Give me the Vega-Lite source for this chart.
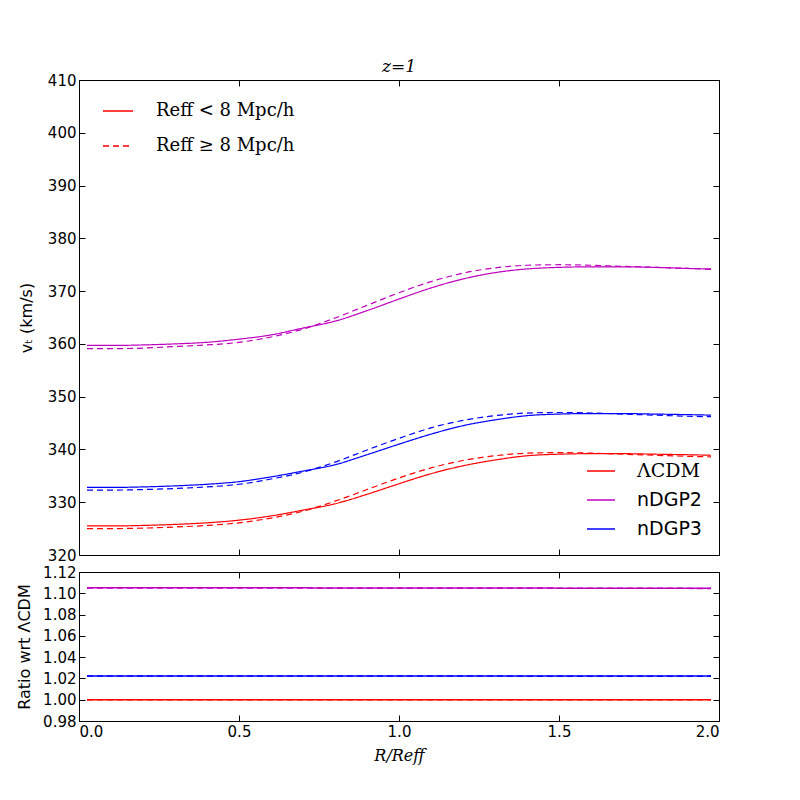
{
  "$schema": "https://vega.github.io/schema/vega-lite/v6.json",
  "background": "white",
  "padding": {"left": 16, "top": 57, "right": 10, "bottom": 10},
  "spacing": 0,
  "datasets": {
    "curves": [
      {"x": 0.025, "v": 325.5, "m": "ΛCDM", "s": "lt"}, {"x": 0.1, "v": 325.5, "m": "ΛCDM", "s": "lt"}, {"x": 0.2, "v": 325.6, "m": "ΛCDM", "s": "lt"}, {"x": 0.3, "v": 325.8, "m": "ΛCDM", "s": "lt"}, {"x": 0.4, "v": 326.1, "m": "ΛCDM", "s": "lt"}, {"x": 0.5, "v": 326.6, "m": "ΛCDM", "s": "lt"}, {"x": 0.6, "v": 327.4, "m": "ΛCDM", "s": "lt"}, {"x": 0.7, "v": 328.5, "m": "ΛCDM", "s": "lt"}, {"x": 0.8, "v": 329.7, "m": "ΛCDM", "s": "lt"}, {"x": 0.9, "v": 331.5, "m": "ΛCDM", "s": "lt"}, {"x": 1.0, "v": 333.5, "m": "ΛCDM", "s": "lt"}, {"x": 1.1, "v": 335.4, "m": "ΛCDM", "s": "lt"}, {"x": 1.2, "v": 336.9, "m": "ΛCDM", "s": "lt"}, {"x": 1.3, "v": 338.0, "m": "ΛCDM", "s": "lt"}, {"x": 1.4, "v": 338.8, "m": "ΛCDM", "s": "lt"}, {"x": 1.5, "v": 339.1, "m": "ΛCDM", "s": "lt"}, {"x": 1.6, "v": 339.2, "m": "ΛCDM", "s": "lt"}, {"x": 1.7, "v": 339.2, "m": "ΛCDM", "s": "lt"}, {"x": 1.8, "v": 339.1, "m": "ΛCDM", "s": "lt"}, {"x": 1.9, "v": 339.0, "m": "ΛCDM", "s": "lt"}, {"x": 1.975, "v": 338.9, "m": "ΛCDM", "s": "lt"},
      {"x": 0.025, "v": 325.0, "m": "ΛCDM", "s": "ge"}, {"x": 0.1, "v": 325.0, "m": "ΛCDM", "s": "ge"}, {"x": 0.2, "v": 325.1, "m": "ΛCDM", "s": "ge"}, {"x": 0.3, "v": 325.3, "m": "ΛCDM", "s": "ge"}, {"x": 0.4, "v": 325.6, "m": "ΛCDM", "s": "ge"}, {"x": 0.5, "v": 326.1, "m": "ΛCDM", "s": "ge"}, {"x": 0.6, "v": 327.0, "m": "ΛCDM", "s": "ge"}, {"x": 0.7, "v": 328.3, "m": "ΛCDM", "s": "ge"}, {"x": 0.8, "v": 330.2, "m": "ΛCDM", "s": "ge"}, {"x": 0.9, "v": 332.4, "m": "ΛCDM", "s": "ge"}, {"x": 1.0, "v": 334.6, "m": "ΛCDM", "s": "ge"}, {"x": 1.1, "v": 336.5, "m": "ΛCDM", "s": "ge"}, {"x": 1.2, "v": 337.9, "m": "ΛCDM", "s": "ge"}, {"x": 1.3, "v": 338.8, "m": "ΛCDM", "s": "ge"}, {"x": 1.4, "v": 339.3, "m": "ΛCDM", "s": "ge"}, {"x": 1.5, "v": 339.4, "m": "ΛCDM", "s": "ge"}, {"x": 1.6, "v": 339.3, "m": "ΛCDM", "s": "ge"}, {"x": 1.7, "v": 339.1, "m": "ΛCDM", "s": "ge"}, {"x": 1.8, "v": 338.9, "m": "ΛCDM", "s": "ge"}, {"x": 1.9, "v": 338.7, "m": "ΛCDM", "s": "ge"}, {"x": 1.975, "v": 338.6, "m": "ΛCDM", "s": "ge"},
      {"x": 0.025, "v": 359.7, "m": "nDGP2", "s": "lt"}, {"x": 0.1, "v": 359.7, "m": "nDGP2", "s": "lt"}, {"x": 0.2, "v": 359.8, "m": "nDGP2", "s": "lt"}, {"x": 0.3, "v": 360.0, "m": "nDGP2", "s": "lt"}, {"x": 0.4, "v": 360.3, "m": "nDGP2", "s": "lt"}, {"x": 0.5, "v": 360.9, "m": "nDGP2", "s": "lt"}, {"x": 0.6, "v": 361.7, "m": "nDGP2", "s": "lt"}, {"x": 0.7, "v": 363.0, "m": "nDGP2", "s": "lt"}, {"x": 0.8, "v": 364.3, "m": "nDGP2", "s": "lt"}, {"x": 0.9, "v": 366.3, "m": "nDGP2", "s": "lt"}, {"x": 1.0, "v": 368.5, "m": "nDGP2", "s": "lt"}, {"x": 1.1, "v": 370.6, "m": "nDGP2", "s": "lt"}, {"x": 1.2, "v": 372.3, "m": "nDGP2", "s": "lt"}, {"x": 1.3, "v": 373.5, "m": "nDGP2", "s": "lt"}, {"x": 1.4, "v": 374.2, "m": "nDGP2", "s": "lt"}, {"x": 1.5, "v": 374.5, "m": "nDGP2", "s": "lt"}, {"x": 1.6, "v": 374.6, "m": "nDGP2", "s": "lt"}, {"x": 1.7, "v": 374.6, "m": "nDGP2", "s": "lt"}, {"x": 1.8, "v": 374.5, "m": "nDGP2", "s": "lt"}, {"x": 1.9, "v": 374.3, "m": "nDGP2", "s": "lt"}, {"x": 1.975, "v": 374.2, "m": "nDGP2", "s": "lt"},
      {"x": 0.025, "v": 359.1, "m": "nDGP2", "s": "ge"}, {"x": 0.1, "v": 359.1, "m": "nDGP2", "s": "ge"}, {"x": 0.2, "v": 359.2, "m": "nDGP2", "s": "ge"}, {"x": 0.3, "v": 359.5, "m": "nDGP2", "s": "ge"}, {"x": 0.4, "v": 359.8, "m": "nDGP2", "s": "ge"}, {"x": 0.5, "v": 360.3, "m": "nDGP2", "s": "ge"}, {"x": 0.6, "v": 361.3, "m": "nDGP2", "s": "ge"}, {"x": 0.7, "v": 362.8, "m": "nDGP2", "s": "ge"}, {"x": 0.8, "v": 364.9, "m": "nDGP2", "s": "ge"}, {"x": 0.9, "v": 367.3, "m": "nDGP2", "s": "ge"}, {"x": 1.0, "v": 369.7, "m": "nDGP2", "s": "ge"}, {"x": 1.1, "v": 371.8, "m": "nDGP2", "s": "ge"}, {"x": 1.2, "v": 373.4, "m": "nDGP2", "s": "ge"}, {"x": 1.3, "v": 374.4, "m": "nDGP2", "s": "ge"}, {"x": 1.4, "v": 374.9, "m": "nDGP2", "s": "ge"}, {"x": 1.5, "v": 375.0, "m": "nDGP2", "s": "ge"}, {"x": 1.6, "v": 374.9, "m": "nDGP2", "s": "ge"}, {"x": 1.7, "v": 374.7, "m": "nDGP2", "s": "ge"}, {"x": 1.8, "v": 374.5, "m": "nDGP2", "s": "ge"}, {"x": 1.9, "v": 374.3, "m": "nDGP2", "s": "ge"}, {"x": 1.975, "v": 374.1, "m": "nDGP2", "s": "ge"},
      {"x": 0.025, "v": 332.8, "m": "nDGP3", "s": "lt"}, {"x": 0.1, "v": 332.8, "m": "nDGP3", "s": "lt"}, {"x": 0.2, "v": 332.9, "m": "nDGP3", "s": "lt"}, {"x": 0.3, "v": 333.1, "m": "nDGP3", "s": "lt"}, {"x": 0.4, "v": 333.4, "m": "nDGP3", "s": "lt"}, {"x": 0.5, "v": 333.9, "m": "nDGP3", "s": "lt"}, {"x": 0.6, "v": 334.8, "m": "nDGP3", "s": "lt"}, {"x": 0.7, "v": 335.9, "m": "nDGP3", "s": "lt"}, {"x": 0.8, "v": 337.1, "m": "nDGP3", "s": "lt"}, {"x": 0.9, "v": 339.0, "m": "nDGP3", "s": "lt"}, {"x": 1.0, "v": 341.0, "m": "nDGP3", "s": "lt"}, {"x": 1.1, "v": 342.9, "m": "nDGP3", "s": "lt"}, {"x": 1.2, "v": 344.5, "m": "nDGP3", "s": "lt"}, {"x": 1.3, "v": 345.6, "m": "nDGP3", "s": "lt"}, {"x": 1.4, "v": 346.4, "m": "nDGP3", "s": "lt"}, {"x": 1.5, "v": 346.7, "m": "nDGP3", "s": "lt"}, {"x": 1.6, "v": 346.8, "m": "nDGP3", "s": "lt"}, {"x": 1.7, "v": 346.8, "m": "nDGP3", "s": "lt"}, {"x": 1.8, "v": 346.7, "m": "nDGP3", "s": "lt"}, {"x": 1.9, "v": 346.6, "m": "nDGP3", "s": "lt"}, {"x": 1.975, "v": 346.5, "m": "nDGP3", "s": "lt"},
      {"x": 0.025, "v": 332.3, "m": "nDGP3", "s": "ge"}, {"x": 0.1, "v": 332.3, "m": "nDGP3", "s": "ge"}, {"x": 0.2, "v": 332.4, "m": "nDGP3", "s": "ge"}, {"x": 0.3, "v": 332.6, "m": "nDGP3", "s": "ge"}, {"x": 0.4, "v": 332.9, "m": "nDGP3", "s": "ge"}, {"x": 0.5, "v": 333.4, "m": "nDGP3", "s": "ge"}, {"x": 0.6, "v": 334.4, "m": "nDGP3", "s": "ge"}, {"x": 0.7, "v": 335.7, "m": "nDGP3", "s": "ge"}, {"x": 0.8, "v": 337.6, "m": "nDGP3", "s": "ge"}, {"x": 0.9, "v": 339.9, "m": "nDGP3", "s": "ge"}, {"x": 1.0, "v": 342.1, "m": "nDGP3", "s": "ge"}, {"x": 1.1, "v": 344.1, "m": "nDGP3", "s": "ge"}, {"x": 1.2, "v": 345.5, "m": "nDGP3", "s": "ge"}, {"x": 1.3, "v": 346.4, "m": "nDGP3", "s": "ge"}, {"x": 1.4, "v": 346.9, "m": "nDGP3", "s": "ge"}, {"x": 1.5, "v": 347.0, "m": "nDGP3", "s": "ge"}, {"x": 1.6, "v": 346.9, "m": "nDGP3", "s": "ge"}, {"x": 1.7, "v": 346.7, "m": "nDGP3", "s": "ge"}, {"x": 1.8, "v": 346.5, "m": "nDGP3", "s": "ge"}, {"x": 1.9, "v": 346.3, "m": "nDGP3", "s": "ge"}, {"x": 1.975, "v": 346.2, "m": "nDGP3", "s": "ge"}
    ],
    "ratios": [
      {"x": 0.025, "r": 1.1053, "m": "nDGP2", "s": "lt"}, {"x": 1.0, "r": 1.105, "m": "nDGP2", "s": "lt"}, {"x": 1.975, "r": 1.1047, "m": "nDGP2", "s": "lt"},
      {"x": 0.025, "r": 1.105, "m": "nDGP2", "s": "ge"}, {"x": 1.0, "r": 1.1048, "m": "nDGP2", "s": "ge"}, {"x": 1.975, "r": 1.1046, "m": "nDGP2", "s": "ge"},
      {"x": 0.025, "r": 1.0224, "m": "nDGP3", "s": "lt"}, {"x": 1.0, "r": 1.0223, "m": "nDGP3", "s": "lt"}, {"x": 1.975, "r": 1.0222, "m": "nDGP3", "s": "lt"},
      {"x": 0.025, "r": 1.0223, "m": "nDGP3", "s": "ge"}, {"x": 1.0, "r": 1.0222, "m": "nDGP3", "s": "ge"}, {"x": 1.975, "r": 1.0221, "m": "nDGP3", "s": "ge"},
      {"x": 0.025, "r": 1.0, "m": "ΛCDM", "s": "lt"}, {"x": 1.0, "r": 1.0, "m": "ΛCDM", "s": "lt"}, {"x": 1.975, "r": 1.0, "m": "ΛCDM", "s": "lt"},
      {"x": 0.025, "r": 1.0, "m": "ΛCDM", "s": "ge"}, {"x": 1.0, "r": 1.0, "m": "ΛCDM", "s": "ge"}, {"x": 1.975, "r": 1.0, "m": "ΛCDM", "s": "ge"}
    ]
  },
  "resolve": {"legend": {"color": "independent", "strokeDash": "independent"}},
  "vconcat": [
    {
      "width": 640,
      "height": 475,
      "title": {"text": "z=1", "font": "DejaVu Serif", "fontStyle": "italic", "fontSize": 17, "fontWeight": "normal", "color": "black", "offset": -3},
      "data": {"name": "curves"},
      "resolve": {"axis": {"x": "independent", "y": "independent"}},
      "layer": [
        {
          "mark": {"type": "line", "strokeWidth": 1.2, "clip": true, "interpolate": "monotone"},
          "encoding": {
            "x": {"field": "x", "type": "quantitative", "scale": {"domain": [0, 2]},
                  "axis": {"values": [0, 0.5, 1, 1.5, 2], "labels": false, "title": null, "grid": false, "domain": false, "tickSize": -6}},
            "y": {"field": "v", "type": "quantitative", "scale": {"domain": [320, 410], "nice": false, "zero": false},
                  "axis": {"values": [320, 330, 340, 350, 360, 370, 380, 390, 400, 410], "title": "vₜ (km/s)", "grid": false, "domain": false, "tickSize": -6, "labelPadding": 9, "titlePadding": 13}},
            "color": {"field": "m", "type": "nominal",
                      "scale": {"domain": ["ΛCDM", "nDGP2", "nDGP3"], "range": ["#ff0000", "#bf00bf", "#0000ff"]},
                      "legend": {"orient": "none", "legendX": 507, "legendY": 376, "title": null, "padding": 0,
                                 "symbolType": "stroke", "symbolSize": 784, "symbolStrokeWidth": 1.5,
                                 "labelFontSize": 19, "labelOffset": 21, "rowPadding": 4, "labelColor": "black",
                                 "labelFont": "DejaVu Sans",
                                 "encode": {"labels": {"update": {"font": {"signal": "datum.label == 'ΛCDM' ? 'DejaVu Serif' : 'DejaVu Sans'"}}}}}},
            "strokeDash": {"field": "s", "type": "nominal",
                           "scale": {"domain": ["lt", "ge"], "range": [[1, 0], [6, 4]]},
                           "legend": {"orient": "none", "legendX": 23, "legendY": 15, "title": null, "padding": 0,
                                      "symbolType": "stroke", "symbolSize": 900, "symbolStrokeWidth": 1.5, "symbolStrokeColor": "#ff0000",
                                      "labelFontSize": 18, "labelOffset": 22, "rowPadding": 10, "labelColor": "black",
                                      "labelFont": "DejaVu Serif",
                                      "labelExpr": "datum.label == 'lt' ? 'Reff < 8 Mpc/h' : 'Reff ≥ 8 Mpc/h'"}},
            "detail": {"field": "s"}
          }
        },
        {
          "mark": {"type": "line", "opacity": 0},
          "encoding": {
            "x": {"field": "x", "type": "quantitative", "scale": {"domain": [0, 2]},
                  "axis": {"orient": "top", "values": [0, 0.5, 1, 1.5, 2], "labels": false, "title": null, "grid": false, "domain": false, "tickSize": -6}},
            "y": {"field": "v", "type": "quantitative", "scale": {"domain": [320, 410], "nice": false, "zero": false},
                  "axis": {"orient": "right", "values": [320, 330, 340, 350, 360, 370, 380, 390, 400, 410], "labels": false, "title": null, "grid": false, "domain": false, "tickSize": -6}}
          }
        }
      ]
    },
    {
      "width": 640,
      "height": 149,
      "data": {"name": "ratios"},
      "resolve": {"axis": {"x": "independent", "y": "independent"}},
      "layer": [
        {
          "mark": {"type": "line", "strokeWidth": 1.5, "clip": true},
          "encoding": {
            "x": {"field": "x", "type": "quantitative", "scale": {"domain": [0, 2]},
                  "axis": {"values": [0, 0.5, 1, 1.5, 2], "format": ".1f", "title": "R/Reff", "titleFont": "DejaVu Serif", "titleFontStyle": "italic", "grid": false, "domain": false, "tickSize": -6, "labelPadding": 9, "titlePadding": 8}},
            "y": {"field": "r", "type": "quantitative", "scale": {"domain": [0.98, 1.12], "nice": false, "zero": false},
                  "axis": {"values": [0.98, 1.0, 1.02, 1.04, 1.06, 1.08, 1.1, 1.12], "format": ".2f", "title": "Ratio wrt ΛCDM", "grid": false, "domain": false, "tickSize": -6, "labelPadding": 9, "titlePadding": 10}},
            "color": {"field": "m", "type": "nominal",
                      "scale": {"domain": ["ΛCDM", "nDGP2", "nDGP3"], "range": ["#ff0000", "#bf00bf", "#0000ff"]},
                      "legend": null},
            "strokeDash": {"field": "s", "type": "nominal",
                           "scale": {"domain": ["lt", "ge"], "range": [[1, 0], [6, 4]]}, "legend": null}
          }
        },
        {
          "mark": {"type": "line", "opacity": 0},
          "encoding": {
            "x": {"field": "x", "type": "quantitative", "scale": {"domain": [0, 2]},
                  "axis": {"orient": "top", "values": [0, 0.5, 1, 1.5, 2], "labels": false, "title": null, "grid": false, "domain": false, "tickSize": -6}},
            "y": {"field": "r", "type": "quantitative", "scale": {"domain": [0.98, 1.12], "nice": false, "zero": false},
                  "axis": {"orient": "right", "values": [0.98, 1.0, 1.02, 1.04, 1.06, 1.08, 1.1, 1.12], "labels": false, "title": null, "grid": false, "domain": false, "tickSize": -6}}
          }
        }
      ]
    }
  ],
  "config": {
    "font": "DejaVu Sans",
    "view": {"stroke": "black", "strokeWidth": 1},
    "axis": {"labelFont": "DejaVu Sans", "labelFontSize": 15, "labelColor": "black", "titleFont": "DejaVu Sans", "titleFontSize": 16, "titleFontWeight": "normal", "titleColor": "black", "tickColor": "black", "tickWidth": 1}
  }
}
